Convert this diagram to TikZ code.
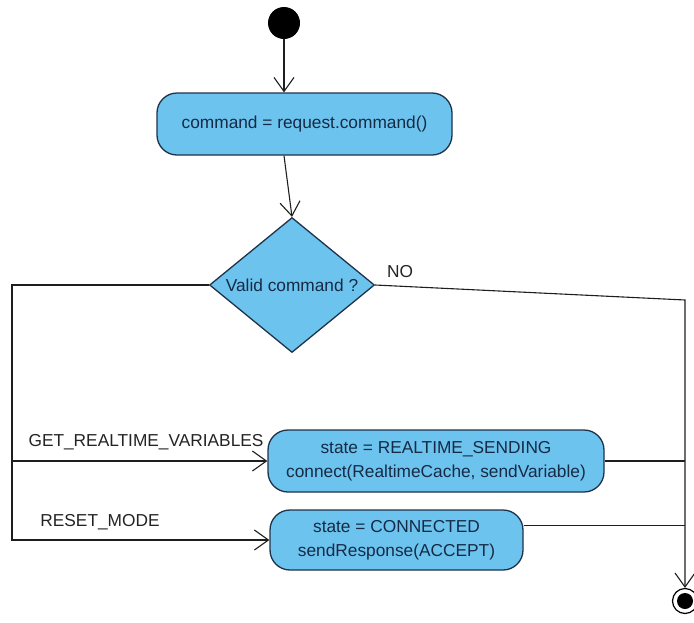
\documentclass[tikz,border=0pt]{standalone}
\usepackage{fontspec}
\setmainfont{Liberation Sans}
\usetikzlibrary{arrows.meta,shapes.geometric}
\definecolor{actfill}{RGB}{108,196,238}
\definecolor{actline}{RGB}{30,50,75}
\definecolor{acttext}{RGB}{22,42,70}
\definecolor{flowc}{RGB}{30,30,30}
\definecolor{labelc}{RGB}{35,35,35}
\begin{document}
\begin{tikzpicture}[x=1pt,y=-1pt,
  txt/.style={font=\fontsize{17.3}{24}\selectfont},
  action/.style={txt, rectangle, rounded corners=20pt, draw=actline, line width=1.3pt,
    fill=actfill, text=acttext, align=center, inner sep=0pt},
  decision/.style={txt, diamond, aspect=1.22, draw=actline, line width=1.3pt,
    fill=actfill, text=acttext, inner sep=0pt, minimum width=165pt, minimum height=135pt},
  flow/.style={draw=flowc, line width=1.1pt},
  arr/.style={flow, -{Straight Barb[length=14pt, width=20pt, line width=1.1pt]}},
  lbl/.style={txt, text=labelc, inner sep=0pt}]

\useasboundingbox (0,0) rectangle (694,622);

% initial and final states
\node[circle, fill=black, minimum size=32pt, inner sep=0pt] (start) at (284,23) {};
\node[circle, draw=black, line width=1.2pt, fill=white, minimum size=25pt, inner sep=0pt] (end) at (685,601) {};
\node[circle, fill=black, minimum size=16pt, inner sep=0pt] (endcore) at (end.center) {};

% actions and decision
\node[action, minimum width=295pt, minimum height=62pt] (cmd) at (304.5,124) {command = request.command()};
\node[decision] (valid) at (292,285) {Valid command ?};
\node[action, minimum width=336pt, minimum height=62pt] (rt) at (436,461)
  {state = REALTIME\_SENDING\\connect(RealtimeCache, sendVariable)};
\node[action, minimum width=253pt, minimum height=60pt] (conn) at (396.5,540)
  {state = CONNECTED\\sendResponse(ACCEPT)};

% guard labels
\node[lbl] (lno) at (400,272) {NO};
\node[lbl] (lget) at (146,442) {GET\_REALTIME\_VARIABLES};
\node[lbl] (lreset) at (100,522) {RESET\_MODE};

% routing points
\coordinate (noturn) at (685,300);
\coordinate (leftrail) at (12,285);

% control flow
\draw[arr] (start) -- (start |- cmd.north);
\draw[arr] (start |- cmd.south) -- (valid.north);
\draw[arr] (valid.east) -- (noturn) -- (end.north);
\draw[arr] (valid.west) -- (leftrail) |- (conn.west);
\draw[arr] (leftrail |- rt.west) -- (rt.west);
\draw[flow] (rt.east) -- (rt.east -| noturn);
\draw[flow] ([yshift=-16pt]conn.north east) coordinate (connout) -- (connout -| noturn);
\end{tikzpicture}
\end{document}
